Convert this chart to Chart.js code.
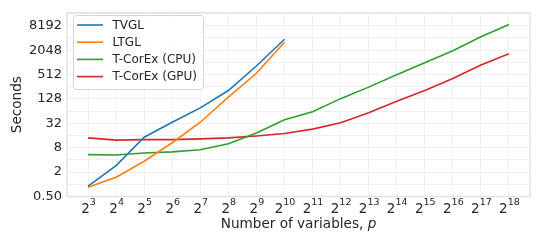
<!DOCTYPE html>
<html>
<head>
  <meta charset="UTF-8">
  <title>Runtime</title>
  <script src="https://cdn.jsdelivr.net/npm/chart.js"></script>
  <style>
    body { margin: 0; background: #fff; }
    #wrap { width: 540px; height: 247px; position: relative; }
  </style>
</head>
<body>
<div id="wrap"><canvas id="runChart"></canvas></div>

<script>
  // number of variables p = 2^3 ... 2^18
  const pValues = [8, 16, 32, 64, 128, 256, 512, 1024, 2048, 4096, 8192, 16384, 32768, 65536, 131072, 262144];
  const xTickExps = [3, 4, 5, 6, 7, 8, 9, 10, 11, 12, 13, 14, 15, 16, 17, 18];
  const yTickExps = [-1, 0, 1, 2, 3, 4, 5, 6, 7, 8, 9, 10, 11, 12, 13, 14];

  // seconds
  const tvgl = [0.9, 2.9, 14.5, 34, 77, 206, 830, 3800];
  const ltgl = [0.85, 1.5, 3.7, 10.6, 34, 142, 550, 3200];
  const corexCpu = [5.4, 5.3, 5.9, 6.3, 7.1, 10, 18.4, 39, 62, 130, 250, 505, 1000, 1980, 4400, 8800];
  const corexGpu = [14, 12.3, 12.7, 12.7, 13.2, 14, 15.6, 18, 23, 33, 58, 112, 206, 410, 880, 1660];

  const seriesNames = ['TVGL', 'LTGL', 'T-CorEx (CPU)', 'T-CorEx (GPU)'];
  const colors = ['#1f77b4', '#ff7f0e', '#2ca02c', '#d62728'];

  const FONT = "'DejaVu Sans', sans-serif";
  const TEXT = '#262626';

  function pts(vals) {
    return vals.map((v, i) => ({x: pValues[i], y: v}));
  }

  // frame, legend (inside plot), 2^n tick labels and axis titles
  const extras = {
    id: 'extras',
    beforeDatasetsDraw(chart) {
      const a = chart.chartArea, ctx = chart.ctx;
      ctx.save();
      ctx.strokeStyle = '#e3e3e3';
      ctx.lineWidth = 1.5;
      ctx.strokeRect(a.left, a.top, a.right - a.left, a.bottom - a.top);
      ctx.restore();
    },
    afterDraw(chart) {
      const a = chart.chartArea, ctx = chart.ctx;
      ctx.save();
      // legend box
      const bx = 73, by = 15, bw = 130, bh = 74, r = 3;
      ctx.fillStyle = 'rgba(255,255,255,0.85)';
      ctx.strokeStyle = '#d6d6d6';
      ctx.lineWidth = 1;
      ctx.beginPath();
      ctx.roundRect(bx + 0.5, by + 0.5, bw, bh, r);
      ctx.fill();
      ctx.stroke();
      ctx.font = '12px ' + FONT;
      ctx.textBaseline = 'middle';
      chart.data.datasets.forEach((ds, i) => {
        const y = 25 + i * 17.2;
        ctx.strokeStyle = ds.borderColor;
        ctx.lineWidth = 1.6;
        ctx.beginPath();
        ctx.moveTo(77, y);
        ctx.lineTo(103, y);
        ctx.stroke();
        ctx.fillStyle = TEXT;
        ctx.fillText(ds.label, 112.5, y + 0.5);
      });

      // x tick labels: 2 with superscript exponent
      const xs = chart.scales.x;
      ctx.fillStyle = TEXT;
      ctx.textBaseline = 'alphabetic';
      ctx.textAlign = 'left';
      xTickExps.forEach(e => {
        const px = xs.getPixelForValue(Math.pow(2, e));
        ctx.font = '13.5px ' + FONT;
        const wb = ctx.measureText('2').width;
        ctx.font = '9.5px ' + FONT;
        const we = ctx.measureText(String(e)).width;
        const x0 = px - (wb + we) / 2 + 0.5;
        ctx.font = '13.5px ' + FONT;
        ctx.fillText('2', x0, 212.5);
        ctx.font = '9.5px ' + FONT;
        ctx.fillText(String(e), x0 + wb, 205);
      });

      // x title with italic p
      ctx.textBaseline = 'middle';
      const t1 = 'Number of variables, ';
      ctx.font = '13.6px ' + FONT;
      const w1 = ctx.measureText(t1).width;
      ctx.font = 'italic 13.6px ' + FONT;
      const w2 = ctx.measureText('p').width;
      const cx = (a.left + a.right) / 2;
      const x0 = cx - (w1 + w2) / 2;
      ctx.font = '13.6px ' + FONT;
      ctx.fillText(t1, x0, 224);
      ctx.font = 'italic 13.6px ' + FONT;
      ctx.fillText('p', x0 + w1, 224);

      // y title
      ctx.font = '13.6px ' + FONT;
      ctx.textAlign = 'center';
      ctx.translate(17, (a.top + a.bottom) / 2);
      ctx.rotate(-Math.PI / 2);
      ctx.fillText('Seconds', 0, 0);
      ctx.restore();
    }
  };

  new Chart(document.getElementById('runChart'), {
    type: 'line',
    data: {
      datasets: seriesNames.map((name, i) => ({
        label: name,
        data: pts([tvgl, ltgl, corexCpu, corexGpu][i]),
        borderColor: colors[i],
        backgroundColor: colors[i],
        borderWidth: 1.6,
        pointRadius: 0,
        tension: 0,
        fill: false
      }))
    },
    options: {
      responsive: true,
      maintainAspectRatio: false,
      animation: false,
      layout: { padding: { left: 0, top: 9, right: 10, bottom: 0 } },
      plugins: {
        legend: { display: false },
        tooltip: { enabled: false }
      },
      scales: {
        x: {
          type: 'logarithmic',
          min: Math.pow(2, 2.25),
          max: Math.pow(2, 18.75),
          afterBuildTicks: s => { s.ticks = xTickExps.map(e => ({value: Math.pow(2, e)})); },
          afterFit: s => { s.height = 50.5; },
          border: { display: false },
          grid: { color: '#f0f0f0', lineWidth: 1, drawTicks: false },
          ticks: { display: false, autoSkip: false }
        },
        y: {
          type: 'logarithmic',
          min: 0.5,
          max: Math.pow(2, 14.06),
          afterBuildTicks: s => { s.ticks = yTickExps.map(e => ({value: Math.pow(2, e)})); },
          afterFit: s => { s.width = 67; },
          border: { display: false },
          grid: { color: '#f0f0f0', lineWidth: 1, drawTicks: false },
          ticks: {
            autoSkip: false,
            padding: 5,
            color: TEXT,
            font: { family: FONT, size: 13 },
            callback: v => {
              const e = Math.round(Math.log2(v));
              if (e % 2 === 0) return '';
              return e === -1 ? '0.50' : String(Math.round(v));
            }
          }
        }
      }
    },
    plugins: [extras]
  });
</script>
</body>
</html>
